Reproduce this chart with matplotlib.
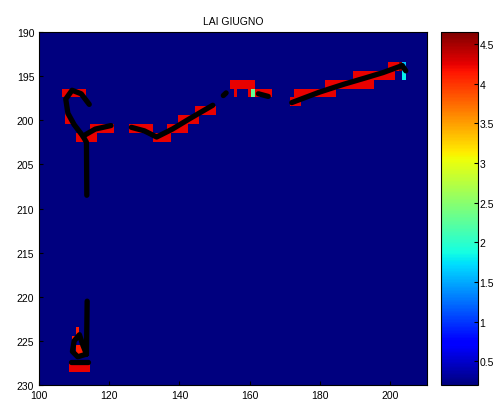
import numpy as np
import matplotlib
matplotlib.use("Agg")
import matplotlib.pyplot as plt

# grid of cells (centres at integer coordinates)
x_cells = np.arange(100, 211)
y_cells = np.arange(190, 231)
background = 0.2

# cells with high LAI values: row, first x, last x, value
hot_y = [197, 199, 200, 201, 202, 201, 202, 201, 200, 199, 196, 197, 197,
         198, 197, 196, 196, 195, 194, 228, 225, 226, 224, 197, 194, 195, 194]
hot_x0 = [107, 108, 108, 115, 111, 126, 133, 137, 140, 145, 155, 156, 160,
          172, 173, 182, 188, 190, 200, 109, 110, 111, 111, 161, 204, 204, 203]
hot_x1 = [113, 108, 109, 121, 116, 132, 137, 142, 145, 150, 161, 156, 166,
          174, 184, 187, 195, 201, 203, 114, 110, 112, 111, 161, 204, 204, 203]
hot_v = [4.25, 4.25, 4.25, 4.25, 4.25, 4.25, 4.25, 4.25, 4.25, 4.25, 4.25,
         4.25, 4.25, 4.25, 4.25, 4.25, 4.25, 4.25, 4.25, 4.25, 4.1, 4.1, 4.1,
         2.3, 1.6, 1.8, 4.65]

# black track drawn on top (separate pieces)
track_x = [
    [114.3, 112.0, 109.4, 107.6, 108.2, 110.0, 112.5, 113.5, 113.6],
    [112.5, 116.0, 120.5],
    [126.3, 130.0, 133.5, 138.0, 143.0, 149.5],
    [152.5, 153.3],
    [162.5, 165.3],
    [172.0, 180.0, 187.0, 193.0, 198.0, 203.5, 204.5],
    [113.7, 113.5, 111.0, 109.5, 110.0, 111.5, 112.5, 113.5],
    [109.0, 114.0],
]
track_y = [
    [198.2, 197.0, 196.6, 197.6, 199.2, 200.5, 201.8, 202.5, 208.5],
    [201.8, 201.0, 200.6],
    [200.8, 201.2, 201.9, 201.0, 199.8, 198.3],
    [197.2, 196.9],
    [197.0, 197.3],
    [198.0, 196.8, 195.9, 195.2, 194.6, 193.8, 194.4],
    [220.5, 226.5, 226.8, 226.2, 225.0, 224.3, 225.5, 226.5],
    [227.4, 227.4],
]

Z = np.full((len(y_cells), len(x_cells)), background)
for yy, a, b, v in zip(hot_y, hot_x0, hot_x1, hot_v):
    Z[yy - y_cells[0], a - x_cells[0]:b - x_cells[0] + 1] = v

plt.rcParams["font.family"] = "Liberation Sans"
fig = plt.figure(figsize=(5.01, 4.10), dpi=100)
ax = fig.add_axes([0.078, 0.0585, 0.774, 0.861])
im = ax.imshow(Z, cmap="jet", aspect="auto", interpolation="nearest",
               extent=(x_cells[0] - 0.5, x_cells[-1] + 0.5,
                       y_cells[-1] + 0.5, y_cells[0] - 0.5),
               vmin=Z.min(), vmax=Z.max())
for xs, ys in zip(track_x, track_y):
    ax.plot(xs, ys, color="black", lw=3.8, solid_capstyle="round")
ax.set_xlim(100, 210.5)
ax.set_ylim(230, 190)
ax.set_xticks([100, 120, 140, 160, 180, 200])
ax.set_yticks(np.arange(190, 231, 5))
ax.tick_params(direction="in", labelsize=7.5, length=3)
ax.set_title("LAI GIUGNO", fontsize=7.5, pad=6)

cax = fig.add_axes([0.880, 0.0585, 0.074, 0.861])
cb = fig.colorbar(im, cax=cax)
cb.set_ticks([0.5, 1, 1.5, 2, 2.5, 3, 3.5, 4, 4.5])
cb.set_ticklabels(["0.5", "1", "1.5", "2", "2.5", "3", "3.5", "4", "4.5"])
cax.tick_params(direction="in", labelsize=7.5, length=3, pad=1)

fig.savefig("out.png", dpi=100)
